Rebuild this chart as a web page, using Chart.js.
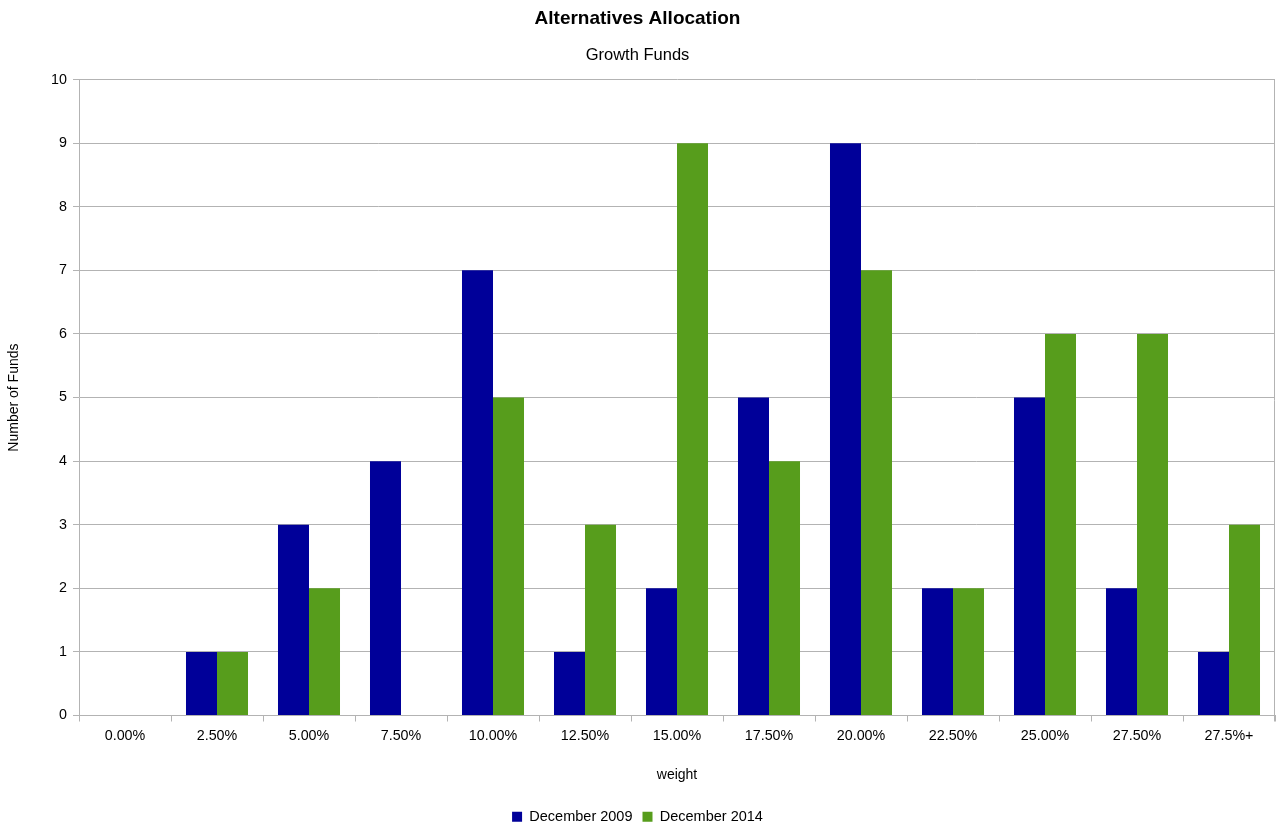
<!DOCTYPE html>
<html>
<head>
<meta charset="utf-8">
<script src="https://cdn.jsdelivr.net/npm/chart.js@4"></script>
<style>
html,body{margin:0;padding:0;background:#fff;}
#wrap{width:1277px;height:828px;}
</style>
</head>
<body>
<div id="wrap"><canvas id="c" width="1277" height="828"></canvas></div>
<script>
const categories = ["0.00%","2.50%","5.00%","7.50%","10.00%","12.50%","15.00%","17.50%","20.00%","22.50%","25.00%","27.50%","27.5%+"];
const dec2009 = [0,1,3,4,7,1,2,5,9,2,5,2,1];
const dec2014 = [0,1,2,0,5,3,9,4,7,2,6,6,3];
const seriesNames = ["December 2009","December 2014"];

const FONT = "'Liberation Sans', Arial, sans-serif";
const gridColor = "#b3b3b3";

const borderPlugin = {
  id: 'rightBorder',
  afterDraw(chart) {
    const a = chart.chartArea, ctx = chart.ctx;
    ctx.save();
    ctx.strokeStyle = gridColor;
    ctx.lineWidth = 1;
    ctx.beginPath();
    ctx.moveTo(Math.round(a.right) - 0.5, a.top);
    ctx.lineTo(Math.round(a.right) - 0.5, a.bottom + 6);
    ctx.stroke();
    ctx.restore();
  }
};

new Chart(document.getElementById('c'), {
  type: 'bar',
  data: {
    labels: categories,
    datasets: [
      {label: seriesNames[0], data: dec2009, backgroundColor: '#000099', borderWidth: 0},
      {label: seriesNames[1], data: dec2014, backgroundColor: '#579d1c', borderWidth: 0}
    ]
  },
  options: {
    responsive: false,
    animation: false,
    devicePixelRatio: 1,
    layout: {padding: {left: 0, right: 2, top: 0, bottom: -6}},
    datasets: {bar: {categoryPercentage: 0.674, barPercentage: 1}},
    plugins: {
      title: {display: true, text: 'Alternatives Allocation', color: '#000',
        font: {family: FONT, size: 19, weight: 'bold'}, padding: {top: 7, bottom: 0}},
      subtitle: {display: true, text: 'Growth Funds', color: '#000',
        font: {family: FONT, size: 16.5}, padding: {top: 16, bottom: 14}},
      legend: {position: 'bottom', labels: {color: '#000', font: {family: FONT, size: 14.5},
        boxWidth: 10, boxHeight: 10, padding: 10}},
      tooltip: {enabled: false}
    },
    scales: {
      x: {
        grid: {display: true, drawOnChartArea: false, drawTicks: true, tickLength: 6, color: gridColor, offset: true},
        border: {display: true, color: gridColor},
        ticks: {color: '#000', font: {family: FONT, size: 14.3}, padding: 6, maxRotation: 0},
        title: {display: true, text: 'weight', color: '#000', font: {family: FONT, size: 14}, padding: {top: 0, bottom: 16}},
        afterFit(s) { s.height = 84; }
      },
      y: {
        min: 0, max: 10,
        grid: {color: gridColor, tickLength: 6},
        border: {display: true, color: gridColor},
        ticks: {stepSize: 1, color: '#000', font: {family: FONT, size: 14.3}, padding: 6},
        title: {display: true, text: 'Number of Funds', color: '#000', font: {family: FONT, size: 14}, padding: {top: 6, bottom: 6}},
        afterFit(s) { s.width = 79; }
      }
    }
  },
  plugins: [borderPlugin]
});
</script>
</body>
</html>
